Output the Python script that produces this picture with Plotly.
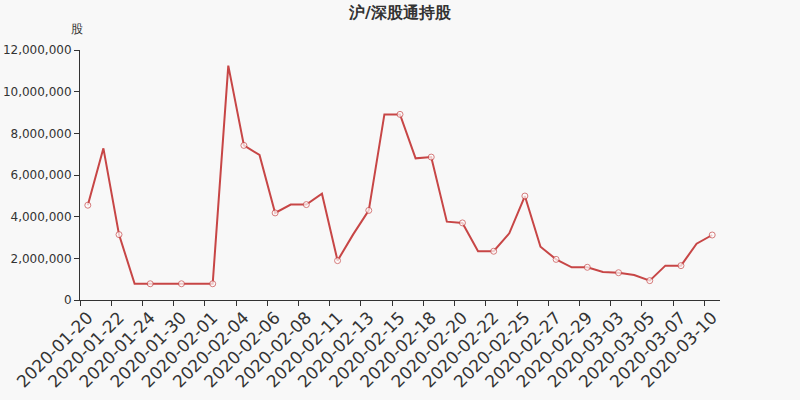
import plotly.graph_objects as go

dates = [
    "2020-01-20", "2020-01-21", "2020-01-22", "2020-01-23", "2020-01-24",
    "2020-01-29", "2020-01-30", "2020-01-31", "2020-02-01", "2020-02-03",
    "2020-02-04", "2020-02-05", "2020-02-06", "2020-02-07", "2020-02-08",
    "2020-02-10", "2020-02-11", "2020-02-12", "2020-02-13", "2020-02-14",
    "2020-02-15", "2020-02-17", "2020-02-18", "2020-02-19", "2020-02-20",
    "2020-02-21", "2020-02-22", "2020-02-24", "2020-02-25", "2020-02-26",
    "2020-02-27", "2020-02-28", "2020-02-29", "2020-03-02", "2020-03-03",
    "2020-03-04", "2020-03-05", "2020-03-06", "2020-03-07", "2020-03-09",
    "2020-03-10",
]
holdings = [
    4550000, 7280000, 3140000, 780000, 780000,
    780000, 780000, 780000, 780000, 11250000,
    7420000, 6960000, 4180000, 4580000, 4580000,
    5100000, 1890000, 3150000, 4300000, 8910000,
    8910000, 6800000, 6860000, 3760000, 3700000,
    2340000, 2340000, 3200000, 4990000, 2560000,
    1950000, 1570000, 1570000, 1340000, 1310000,
    1200000, 930000, 1650000, 1650000, 2700000,
    3120000,
]
y_ticks = [0, 2000000, 4000000, 6000000, 8000000, 10000000, 12000000]

title_text = "沪/深股通持股"
y_unit = "股"

line_color = "rgb(199,70,70)"
marker_sizes = [6 if i % 2 == 0 else 0 for i in range(len(dates))]

fig = go.Figure()
fig.add_trace(go.Scatter(
    x=dates, y=holdings, mode="lines+markers",
    line=dict(color=line_color, width=2),
    marker=dict(size=marker_sizes, color="white",
                line=dict(color=line_color, width=1)),
    hoverinfo="x+y", showlegend=False,
))

fig.update_layout(
    width=800, height=400,
    paper_bgcolor="#f8f8f8", plot_bgcolor="#f8f8f8",
    margin=dict(l=80, r=80, t=50, b=100, autoexpand=False),
    font=dict(family="DejaVu Sans", color="#333"),
    title=dict(text="<b>" + title_text + "</b>", x=0.5, xanchor="center",
               y=0.97, yanchor="middle", font=dict(size=16, color="#333")),
    xaxis=dict(
        type="category", range=[-0.5, len(dates) - 0.5],
        tickmode="linear", tick0=0, dtick=2,
        tickson="boundaries", ticks="outside", ticklen=5, tickcolor="#333",
        showline=True, linecolor="#333", linewidth=1,
        showgrid=False, zeroline=False, automargin=False,
        tickangle=-45, tickfont=dict(size=17, color="#333"),
    ),
    yaxis=dict(
        range=[0, 12000000], tickvals=y_ticks, tickformat=",d",
        ticks="outside", ticklen=5, tickcolor="#333",
        showline=True, linecolor="#333", linewidth=1,
        showgrid=False, zeroline=False, automargin=False,
        tickfont=dict(size=12, color="#333"),
    ),
    annotations=[dict(
        text=y_unit, xref="paper", yref="paper", x=0, y=1,
        xanchor="right", yanchor="bottom", yshift=12, xshift=5,
        showarrow=False, font=dict(size=12, color="#333"),
    )],
)

fig.write_html(
    "out.html",
    config={"displayModeBar": False},
    post_script="document.body.style.margin='0';document.body.style.background='#f8f8f8';",
)
